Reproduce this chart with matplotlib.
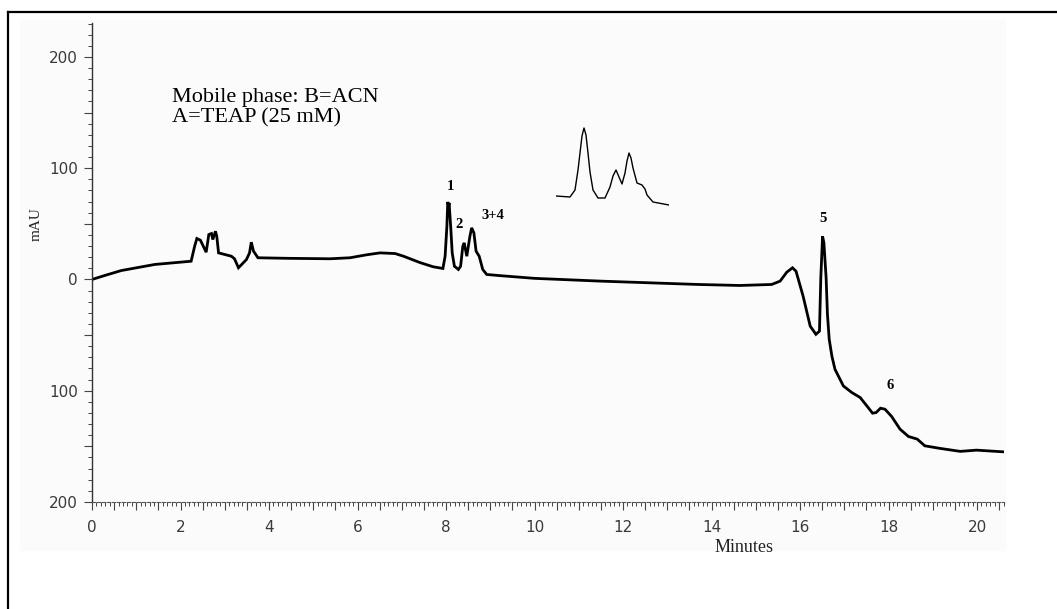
import numpy as np
import matplotlib.pyplot as plt
from matplotlib.ticker import MultipleLocator, FuncFormatter
from matplotlib.patches import Rectangle
from matplotlib.lines import Line2D

# Chromatogram trace (minutes, mAU)
time_min = [0.00, 0.29, 0.66, 1.42, 2.24, 2.32, 2.37, 2.45, 2.58, 2.64, 2.70, 2.73,
            2.79, 2.82, 2.86, 3.15, 3.22, 3.31, 3.49, 3.56, 3.60, 3.65, 3.75, 4.43,
            5.38, 5.83, 6.21, 6.51, 6.85, 7.04, 7.41, 7.71, 7.93, 7.98, 8.02, 8.04,
            8.06, 8.07, 8.11, 8.14, 8.19, 8.28, 8.33, 8.38, 8.41, 8.47, 8.54, 8.58,
            8.63, 8.68, 8.75, 8.83, 8.92, 9.2, 10.0, 11.5, 13.7, 14.64, 15.36, 15.55,
            15.70, 15.83, 15.91, 16.07, 16.23, 16.36, 16.44, 16.45, 16.47, 16.51,
            16.54, 16.59, 16.62, 16.66, 16.72, 16.79, 16.98, 17.17, 17.36, 17.51,
            17.64, 17.72, 17.82, 17.92, 18.07, 18.26, 18.45, 18.65, 18.82, 19.16,
            19.62, 19.99, 20.59]
mau = [0.0, 3.6, 8.0, 13.5, 16.4, 29.9, 36.8, 35.3, 24.5, 40.4, 41.3, 35.9,
       43.3, 38.8, 23.9, 20.9, 18.6, 10.5, 17.9, 23.9, 33.5, 25.4, 19.5, 19.0,
       18.6, 19.5, 22.2, 23.9, 23.3, 20.9, 15.2, 11.4, 9.9, 20.9, 47.8, 69.7,
       66.0, 68.8, 44.8, 23.9, 11.9, 9.0, 11.9, 29.9, 32.9, 20.9, 38.8, 46.4,
       41.9, 25.4, 20.9, 9.0, 4.5, 3.5, 1.0, -1.5, -4.5, -5.4, -4.5, -1.5,
       6.5, 10.5, 7.4, -15.0, -41.9, -49.3, -46.4, -29.9, 1.5, 38.8,
       32.9, 1.5, -31.4, -53.8, -68.8, -80.7, -95.7, -101.6, -106.1, -113.6,
       -120.2, -119.6, -115.7, -116.6, -123.1, -134.5, -141.1, -143.5, -149.5, -151.8,
       -154.5, -153.4, -154.9]

# Peak labels
peak_names = ["1", "2", "3+4", "5", "6"]
peak_x = [8.09, 8.29, 9.06, 16.53, 18.03]
peak_y = [83.4, 49.3, 57.4, 54.4, -95.7]

# Inset (enlarged peaks 1-4), arbitrary units
inset_x = [0, 14, 19, 22, 24, 26, 28, 30, 32, 34, 37, 42, 49, 54, 57, 60, 63, 66,
           69, 71, 73, 75, 77, 81, 86, 89, 91, 97, 113]
inset_y = [10, 9, 16, 36, 53, 70, 78, 71, 53, 34, 16, 8, 8, 19, 30, 36, 29, 22,
           33, 45, 53, 48, 38, 23, 21, 17, 11, 4, 1]

W, H = 1057, 609
fig = plt.figure(figsize=(W / 100, H / 100), dpi=100)
fig.patch.set_facecolor("white")

# faint grey panel behind the plot and the outer frame
fig.patches.append(Rectangle((20 / W, 1 - 550 / H), 985 / W, 530 / H,
                             transform=fig.transFigure, color="#fbfbfb", zorder=-5))
fig.add_artist(Line2D([8 / W, 8 / W], [0, 1 - 12 / H], transform=fig.transFigure,
                      color="black", lw=1.6))
fig.add_artist(Line2D([8 / W, 1], [1 - 12 / H, 1 - 12 / H], transform=fig.transFigure,
                      color="black", lw=1.6))

ax = fig.add_axes([92 / W, 1 - 502 / H, 912 / W, 479 / H])
ax.set_facecolor("none")
ax.plot(time_min, mau, color="black", lw=2.0, solid_joinstyle="miter")

ax.set_xlim(0, 20.61)
ax.set_ylim(-200, 230.5)

for s in ["top", "right"]:
    ax.spines[s].set_visible(False)
ax.spines["left"].set_color("#333333")
ax.spines["left"].set_linewidth(1.0)
ax.spines["bottom"].set_color("#555555")
ax.spines["bottom"].set_linewidth(0.8)
ax.spines["bottom"].set_linestyle((0, (3, 1.5)))

ax.xaxis.set_major_locator(MultipleLocator(0.5))
ax.xaxis.set_minor_locator(MultipleLocator(0.1))
ax.yaxis.set_major_locator(MultipleLocator(50))
ax.yaxis.set_minor_locator(MultipleLocator(10))


def xfmt(v, p):
    return f"{int(round(v))}" if abs(v / 2 - round(v / 2)) < 1e-6 else ""


def yfmt(v, p):
    return f"{abs(int(round(v)))}" if abs(v / 100 - round(v / 100)) < 1e-6 else ""


ax.xaxis.set_major_formatter(FuncFormatter(xfmt))
ax.yaxis.set_major_formatter(FuncFormatter(yfmt))
ax.tick_params(axis="both", which="major", direction="out", length=6, width=0.8,
               color="#444444", labelsize=11, labelcolor="#3a3a3a")
ax.tick_params(axis="both", which="minor", direction="out", length=3, width=0.7,
               color="#444444")
ax.tick_params(axis="x", which="major", pad=7)
ax.tick_params(axis="y", which="major", pad=4)

ax.text(1.81, 159.6, "Mobile phase: B=ACN", family="Liberation Serif", fontsize=16,
        va="baseline", ha="left")
ax.text(1.81, 140.8, "A=TEAP (25 mM)", family="Liberation Serif", fontsize=16,
        va="baseline", ha="left")

for name, px, py in zip(peak_names, peak_x, peak_y):
    ax.text(px, py, name, family="Liberation Serif", fontsize=10.5, fontweight="bold",
            ha="center", va="center")

fig.text(36 / W, 1 - 224 / H, "mAU", family="Liberation Serif", fontsize=11,
         rotation=90, ha="center", va="center", color="#222222")
fig.text(744 / W, 1 - 547 / H, "Minutes", family="Liberation Serif", fontsize=13,
         ha="center", va="center", color="#222222")

ins = fig.add_axes([556 / W, 1 - 206 / H, 113 / W, 80 / H])
ins.plot(inset_x, inset_y, color="black", lw=1.0)
ins.set_xlim(0, 113)
ins.set_ylim(0, 80)
ins.axis("off")

fig.savefig("out.png", dpi=100)
